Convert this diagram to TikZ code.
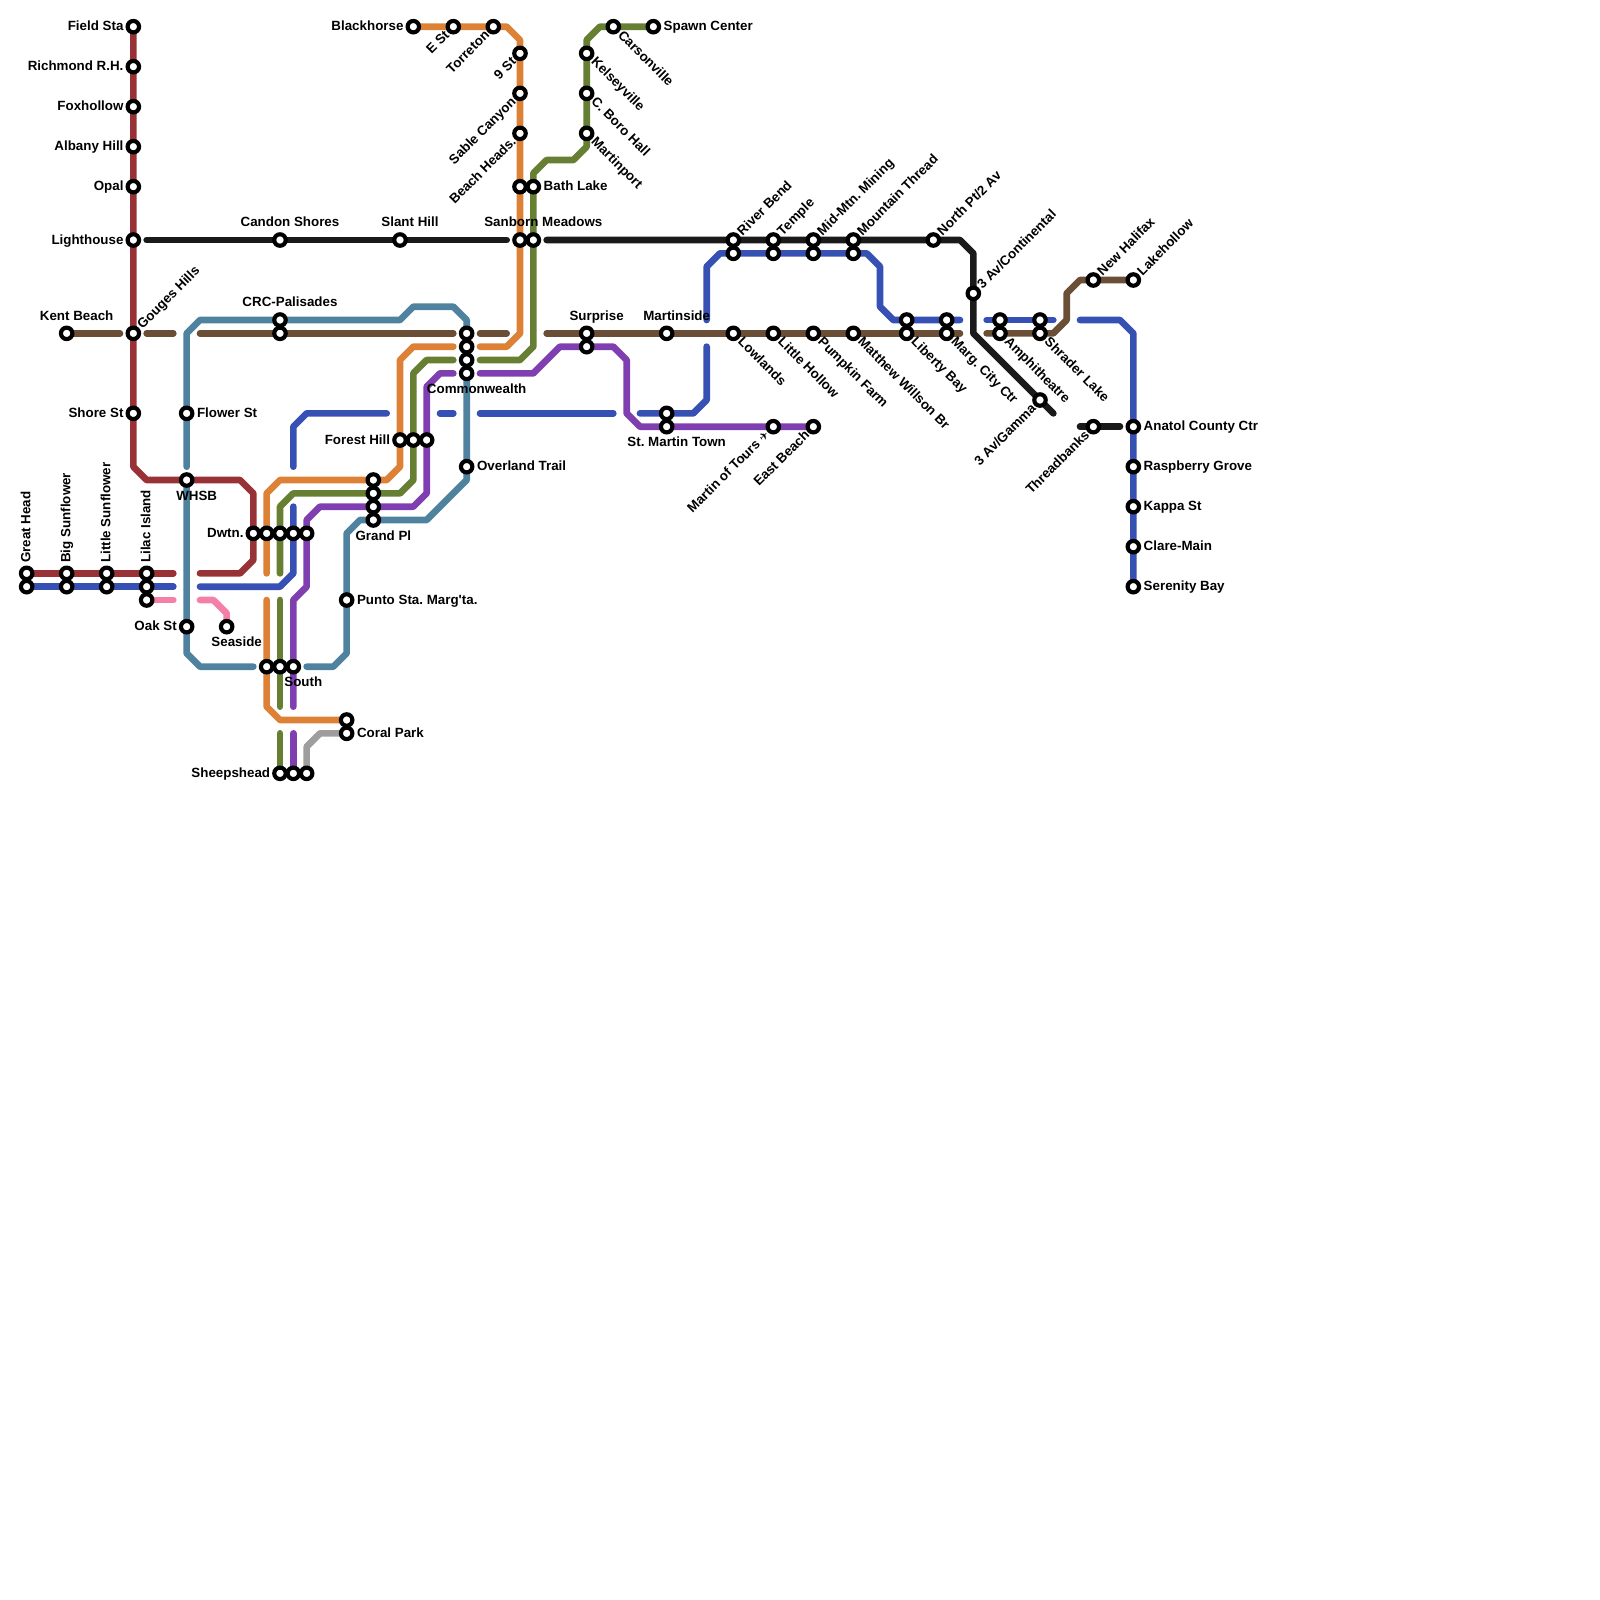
\documentclass[tikz,border=0pt]{standalone}
\usepackage{fontspec}
\setmainfont{Liberation Sans}[BoldFont={Liberation Sans Bold},Ligatures=TeXOff]
\newfontfamily\symfont{DejaVu Sans}
\usetikzlibrary{backgrounds}
\definecolor{cRed}{HTML}{983236}
\definecolor{cBlack}{HTML}{1A1A1A}
\definecolor{cSteel}{HTML}{4E829F}
\definecolor{cBrown}{HTML}{6A4E35}
\definecolor{cOrange}{HTML}{DD8136}
\definecolor{cGreen}{HTML}{667F33}
\definecolor{cBlue}{HTML}{3650B3}
\definecolor{cPurple}{HTML}{7F3FB0}
\definecolor{cGray}{HTML}{9E9E9E}
\definecolor{cPink}{HTML}{F47FA9}
\tikzset{
  stn/.style={circle,draw=black,fill=white,line width=0.31mm,inner sep=0pt,minimum size=0.86mm,outer sep=0pt},
  route/.style={line width=0.5mm,line cap=round,line join=round},
  txt/.style={inner sep=0pt,outer sep=0pt,text=black,text height=2.05pt,text depth=0pt,font=\fontsize{2.85}{3.2}\selectfont\bfseries\frenchspacing},
}
\newcommand{\stn}[3]{\node[stn] (#1) at (#2,#3) {};}
\newcommand{\lL}[2]{\node[txt,anchor=east] (#1-t) at ([shift={(-.74,-.04)}]#1.center) {#2};}
\newcommand{\lR}[2]{\node[txt,anchor=west] (#1-t) at ([shift={(.78,-.04)}]#1.center) {#2};}
\newcommand{\lT}[2]{\node[txt,anchor=center] (#1-t) at ([shift={(.75,-1.36)}]#1.center) {#2};}
\newcommand{\lB}[2]{\node[txt,anchor=center] (#1-t) at ([shift={(.75,1.14)}]#1.center) {#2};}
\newcommand{\lV}[2]{\node[txt,anchor=west,rotate=90] (#1-t) at ([shift={(-.08,-.8)}]#1.center) {#2};}
\newcommand{\lNE}[2]{\node[txt,anchor=west,rotate=45] (#1-t) at ([shift={(.45,-.55)}]#1.center) {#2};}
\newcommand{\lSE}[2]{\node[txt,anchor=west,rotate=-45] (#1-t) at ([shift={(.55,.45)}]#1.center) {#2};}
\newcommand{\lSW}[2]{\node[txt,anchor=east,rotate=45] (#1-t) at ([shift={(-.5,.45)}]#1.center) {#2};}
\begin{document}
\begin{tikzpicture}[x=1mm,y=-1mm]
\useasboundingbox (0,0) rectangle (120,120);
% stations
\stn{field}{10}{2}\stn{rich}{10}{5}\stn{fox}{10}{8}\stn{albany}{10}{11}\stn{opal}{10}{14}\stn{light}{10}{18}\stn{gouges}{10}{25}\stn{shore}{10}{31}
\stn{greatA}{2}{43}\stn{greatB}{2}{44}\stn{bigA}{5}{43}\stn{bigB}{5}{44}\stn{littleA}{8}{43}\stn{littleB}{8}{44}
\stn{lilacA}{11}{43}\stn{lilacB}{11}{44}\stn{lilacC}{11}{45}
\stn{kent}{5}{25}\stn{flower}{14}{31}\stn{whsb}{14}{36}\stn{oak}{14}{47}\stn{seaside}{17}{47}
\stn{candon}{21}{18}\stn{slant}{30}{18}\stn{crcA}{21}{24}\stn{crcB}{21}{25}
\stn{dwA}{19}{40}\stn{dwB}{20}{40}\stn{dwC}{21}{40}\stn{dwD}{22}{40}\stn{dwE}{23}{40}
\stn{southA}{20}{50}\stn{southB}{21}{50}\stn{southC}{22}{50}
\stn{coralA}{26}{54}\stn{coralB}{26}{55}\stn{punto}{26}{45}
\stn{sheepA}{21}{58}\stn{sheepB}{22}{58}\stn{sheepC}{23}{58}
\stn{grandA}{28}{36}\stn{grandB}{28}{37}\stn{grandC}{28}{38}\stn{grandD}{28}{39}
\stn{forestA}{30}{33}\stn{forestB}{31}{33}\stn{forestC}{32}{33}
\stn{comA}{35}{25}\stn{comB}{35}{26}\stn{comC}{35}{27}\stn{comD}{35}{28}\stn{overland}{35}{35}
\stn{black}{31}{2}\stn{est}{34}{2}\stn{torr}{37}{2}\stn{nine}{39}{4}\stn{sable}{39}{7}\stn{beach}{39}{10}
\stn{bathA}{39}{14}\stn{bathB}{40}{14}\stn{sanA}{39}{18}\stn{sanB}{40}{18}
\stn{spawn}{49}{2}\stn{carson}{46}{2}\stn{kelsey}{44}{4}\stn{cboro}{44}{7}\stn{martinp}{44}{10}
\stn{surA}{44}{25}\stn{surB}{44}{26}\stn{martinside}{50}{25}\stn{stmA}{50}{31}\stn{stmB}{50}{32}
\stn{tours}{58}{32}\stn{east}{61}{32}
\stn{riverA}{55}{18}\stn{riverB}{55}{19}\stn{templeA}{58}{18}\stn{templeB}{58}{19}\stn{midA}{61}{18}\stn{midB}{61}{19}\stn{mountA}{64}{18}\stn{mountB}{64}{19}
\stn{north}{70}{18}\stn{cont}{73}{22}\stn{gamma}{78}{30}
\stn{lowlands}{55}{25}\stn{hollow}{58}{25}\stn{pumpkin}{61}{25}\stn{matthew}{64}{25}
\stn{libA}{68}{24}\stn{libB}{68}{25}\stn{margA}{71}{24}\stn{margB}{71}{25}
\stn{amphA}{75}{24}\stn{amphB}{75}{25}\stn{shrA}{78}{24}\stn{shrB}{78}{25}
\stn{halifax}{82}{21}\stn{lake}{85}{21}\stn{thread}{82}{32}
\stn{anatol}{85}{32}\stn{rasp}{85}{35}\stn{kappa}{85}{38}\stn{clare}{85}{41}\stn{serenity}{85}{44}
% free ends
\coordinate (redE) at (13,43);\coordinate (redW) at (15,43);
\coordinate (blueE) at (13,44);\coordinate (blueW) at (15,44);
\coordinate (pinkE) at (13,45);\coordinate (pinkW) at (15,45);
% routes
\begin{scope}[on background layer]
\draw[route,cBrown] (kent.center) -- (9,25);
\draw[route,cBrown] (11,25) -- (13,25);
\draw[route,cBrown] (15,25) -- (crcB.center) -- (34,25);
\draw[route,cBrown] (36,25) -- (38,25);
\draw[route,cBrown] (41,25) -- (surA.center) -- (martinside.center) -- (lowlands.center) -- (hollow.center) -- (pumpkin.center) -- (matthew.center) -- (libB.center) -- (margB.center) -- (72,25);
\draw[route,cBrown] (74,25) -- (amphB.center) -- (shrB.center) -- (79,25) -- (80,24) -- (80,22) -- (81,21) -- (halifax.center) -- (lake.center);
\draw[route,cRed] (field.center) -- (rich.center) -- (fox.center) -- (albany.center) -- (opal.center) -- (light.center) -- (gouges.center) -- (shore.center) -- (10,35) -- (11,36) -- (whsb.center) -- (18,36) -- (19,37) -- (dwA.center) -- (19,42) -- (18,43) -- (redW);
\draw[route,cRed] (greatA.center) -- (bigA.center) -- (littleA.center) -- (lilacA.center) -- (redE);
\draw[route,cBlue] (greatB.center) -- (bigB.center) -- (littleB.center) -- (lilacB.center) -- (blueE);
\draw[route,cBlue] (blueW) -- (21,44) -- (22,43) -- (22,38);
\draw[route,cBlue] (22,35) -- (22,32) -- (23,31) -- (29,31);
\draw[route,cBlue] (33,31) -- (34,31);
\draw[route,cBlue] (36,31) -- (46,31);
\draw[route,cBlue] (48,31) -- (stmA.center) -- (52,31) -- (53,30) -- (53,26);
\draw[route,cBlue] (53,24) -- (53,20) -- (54,19) -- (riverB.center) -- (templeB.center) -- (midB.center) -- (mountB.center) -- (65,19) -- (66,20) -- (66,23) -- (67,24) -- (libA.center) -- (margA.center) -- (72,24);
\draw[route,cBlue] (74,24) -- (amphA.center) -- (shrA.center) -- (79,24);
\draw[route,cBlue] (81,24) -- (84,24) -- (85,25) -- (anatol.center) -- (rasp.center) -- (kappa.center) -- (clare.center) -- (serenity.center);
\draw[route,cBlack] (11,18) -- (candon.center) -- (slant.center) -- (38,18);
\draw[route,cBlack] (41,18) -- (riverA.center) -- (templeA.center) -- (midA.center) -- (mountA.center) -- (north.center) -- (72,18) -- (73,19) -- (cont.center) -- (73,25) -- (gamma.center) -- (79,31);
\draw[route,cBlack] (81,32) -- (thread.center) -- (84,32);
\draw[route,cSteel] (14,35) -- (flower.center) -- (14,25) -- (15,24) -- (crcA.center) -- (30,24) -- (31,23) -- (34,23) -- (35,24) -- (comA.center) -- (comB.center) -- (comC.center) -- (comD.center) -- (overland.center) -- (35,36) -- (32,39) -- (grandD.center) -- (27,39) -- (26,40) -- (punto.center) -- (26,49) -- (25,50) -- (23,50);
\draw[route,cSteel] (whsb.center) -- (oak.center) -- (14,49) -- (15,50) -- (19,50);
\draw[route,cOrange] (black.center) -- (est.center) -- (torr.center) -- (38,2) -- (39,3) -- (nine.center) -- (sable.center) -- (beach.center) -- (bathA.center) -- (sanA.center) -- (39,25) -- (38,26) -- (36,26);
\draw[route,cOrange] (34,26) -- (31,26) -- (30,27) -- (forestA.center) -- (30,35) -- (29,36) -- (grandA.center) -- (21,36) -- (20,37) -- (dwB.center) -- (20,43);
\draw[route,cOrange] (20,45) -- (southA.center) -- (20,53) -- (21,54) -- (coralA.center);
\draw[route,cGreen] (spawn.center) -- (carson.center) -- (45,2) -- (44,3) -- (kelsey.center) -- (cboro.center) -- (martinp.center) -- (44,11) -- (43,12) -- (41,12) -- (40,13) -- (bathB.center) -- (sanB.center) -- (40,26) -- (39,27) -- (36,27);
\draw[route,cGreen] (34,27) -- (32,27) -- (31,28) -- (forestB.center) -- (31,36) -- (30,37) -- (grandB.center) -- (22,37) -- (21,38) -- (dwC.center) -- (21,43);
\draw[route,cGreen] (21,45) -- (southB.center) -- (21,53);
\draw[route,cGreen] (21,55) -- (sheepA.center);
\draw[route,cPurple] (east.center) -- (tours.center) -- (stmB.center) -- (48,32) -- (47,31) -- (47,27) -- (46,26) -- (surB.center) -- (42,26) -- (40,28) -- (36,28);
\draw[route,cPurple] (34,28) -- (33,28) -- (32,29) -- (forestC.center) -- (32,37) -- (31,38) -- (grandC.center) -- (24,38) -- (23,39) -- (dwE.center) -- (23,44) -- (22,45) -- (southC.center) -- (22,53);
\draw[route,cPurple] (22,55) -- (sheepB.center);
\draw[route,cGray] (sheepC.center) -- (23,56) -- (24,55) -- (coralB.center);
\draw[route,cPink] (lilacC.center) -- (pinkE);
\draw[route,cPink] (pinkW) -- (16,45) -- (17,46) -- (seaside.center);
\end{scope}
% labels
\lL{field}{Field Sta}\lL{rich}{Richmond R.H.}\lL{fox}{Foxhollow}\lL{albany}{Albany Hill}\lL{opal}{Opal}\lL{light}{Lighthouse}\lL{shore}{Shore St}
\lL{oak}{Oak St}\lL{dwA}{Dwtn.}\lL{forestA}{Forest Hill}\lL{sheepA}{Sheepshead}\lL{black}{Blackhorse}
\lR{flower}{Flower St}\lR{punto}{Punto Sta. Marg'ta.}\lR{coralB}{Coral Park}\lR{overland}{Overland Trail}\lR{bathB}{Bath Lake}\lR{spawn}{Spawn Center}
\lR{anatol}{Anatol County Ctr}\lR{rasp}{Raspberry Grove}\lR{kappa}{Kappa St}\lR{clare}{Clare-Main}\lR{serenity}{Serenity Bay}
\lT{candon}{Candon Shores}\lT{slant}{Slant Hill}\lT{crcA}{CRC-Palisades}\lT{kent}{Kent Beach}\lT{sanB}{Sanborn Meadows}\lT{surA}{Surprise}\lT{martinside}{Martinside}
\lB{whsb}{WHSB}\lB{seaside}{Seaside}\lB{southC}{South}\lB{grandD}{Grand Pl}\lB{comD}{Commonwealth}\lB{stmB}{St. Martin Town}
\lV{greatA}{Great Head}\lV{bigA}{Big Sunflower}\lV{littleA}{Little Sunflower}\lV{lilacA}{Lilac Island}
\lNE{gouges}{Gouges Hills}\lNE{riverA}{River Bend}\lNE{templeA}{Temple}\lNE{midA}{Mid-Mtn. Mining}\lNE{mountA}{Mountain Thread}\lNE{north}{North Pt/2 Av}\lNE{cont}{3 Av/Continental}\lNE{halifax}{New Halifax}\lNE{lake}{Lakehollow}
\lSE{carson}{Carsonville}\lSE{kelsey}{Kelseyville}\lSE{cboro}{C. Boro Hall}\lSE{martinp}{Martinport}\lSE{lowlands}{Lowlands}\lSE{hollow}{Little Hollow}\lSE{pumpkin}{Pumpkin Farm}\lSE{matthew}{Matthew Willson Br}\lSE{libB}{Liberty Bay}\lSE{margB}{Marg. City Ctr}\lSE{amphB}{Amphitheatre}\lSE{shrB}{Shrader Lake}
\lSW{est}{E St}\lSW{torr}{Torreton}\lSW{nine}{9 St}\lSW{sable}{Sable Canyon}\lSW{beach}{Beach Heads.}\lSW{tours}{Martin of Tours {\symfont\fontsize{2.4}{3}\selectfont ✈}}\lSW{east}{East Beach}\lSW{gamma}{3 Av/Gamma}\lSW{thread}{Threadbanks}
\end{tikzpicture}
\end{document}
